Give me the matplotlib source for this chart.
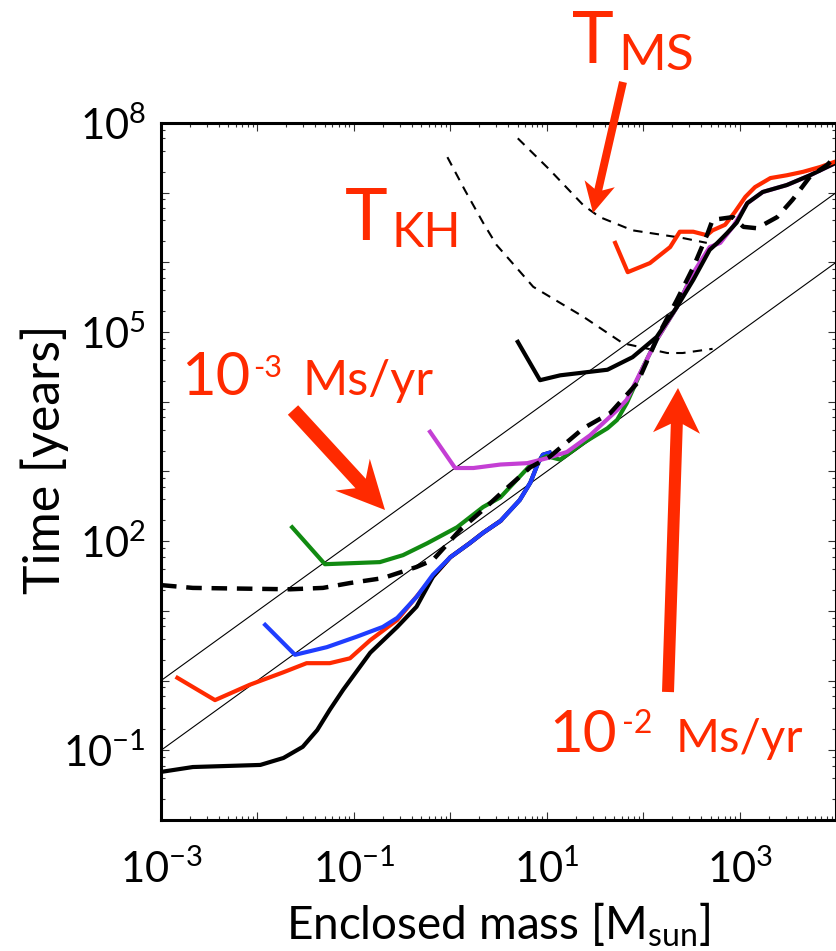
import numpy as np
import matplotlib
matplotlib.use('Agg')
import matplotlib.pyplot as plt
from matplotlib.ticker import LogLocator, FuncFormatter, NullFormatter
from matplotlib.patches import FancyArrow

plt.rcParams['font.family'] = ['Lato', 'DejaVu Sans']
plt.rcParams['mathtext.fontset'] = 'custom'
plt.rcParams['mathtext.rm'] = 'Lato'
plt.rcParams['mathtext.it'] = 'Lato:italic'
plt.rcParams['mathtext.bf'] = 'Lato:bold'

#%%
# values, as log10(mass [Msun]) and log10(time [yr])
red_low_lm = [-2.83, -2.44, -2.08, -1.73, -1.49, -1.25, -1.04, -0.83, -0.55, -0.18, 0.00, 0.20, 0.34, 0.52]
red_low_lt = [0.04, -0.28, -0.06, 0.12, 0.25, 0.25, 0.32, 0.58, 0.87, 1.49, 1.77, 1.97, 2.12, 2.29]

black_low_lm = [-3.00, -2.67, -1.97, -1.73, -1.53, -1.38, -1.25, -1.11, -0.83, -0.55, -0.35, -0.18,
                0.00, 0.20, 0.34, 0.52, 0.72, 0.83, 0.91, 0.96, 1.03]
black_low_lt = [-1.31, -1.24, -1.21, -1.11, -0.95, -0.71, -0.42, -0.13, 0.40, 0.77, 1.06, 1.49,
                1.77, 1.97, 2.12, 2.29, 2.59, 2.84, 3.12, 3.24, 3.27]

blue_lm = [-1.92, -1.61, -1.28, -0.97, -0.70, -0.55, -0.35, -0.18, 0.00, 0.20, 0.34, 0.52, 0.72, 0.83, 0.91, 0.96, 1.03]
blue_lt = [0.80, 0.37, 0.48, 0.63, 0.77, 0.90, 1.20, 1.52, 1.77, 1.97, 2.12, 2.29, 2.59, 2.84, 3.12, 3.24, 3.27]

green_lm = [-1.64, -1.30, -0.73, -0.49, -0.24, 0.07, 0.34, 0.52, 0.83, 1.00, 1.14, 1.38, 1.63, 1.73, 1.83, 2.00, 2.14, 2.35, 2.52]
green_lt = [2.20, 1.67, 1.70, 1.80, 1.97, 2.20, 2.49, 2.63, 3.09, 3.22, 3.17, 3.41, 3.62, 3.74, 3.98, 4.50, 4.89, 5.36, 5.85]

purple_lm = [-0.21, 0.05, 0.24, 0.52, 0.80, 1.00, 1.21, 1.45, 1.73, 1.83, 2.00, 2.14, 2.35, 2.52, 2.69,
             2.80, 2.93, 3.08, 3.24, 3.49, 3.73, 4.00]
purple_lt = [3.57, 3.05, 3.05, 3.10, 3.12, 3.19, 3.28, 3.52, 3.88, 4.03, 4.50, 4.89, 5.36, 5.85, 6.22,
             6.28, 6.51, 6.85, 7.01, 7.11, 7.25, 7.43]

black_up_lm = [0.70, 0.93, 1.14, 1.63, 1.89, 2.14, 2.35, 2.52, 2.69, 2.77, 2.87, 2.97, 3.08, 3.24, 3.49, 3.73, 4.00]
black_up_lt = [4.86, 4.31, 4.38, 4.46, 4.64, 4.93, 5.36, 5.75, 6.18, 6.28, 6.42, 6.57, 6.85, 7.01, 7.11, 7.25, 7.43]

red_up_lm = [1.71, 1.84, 2.07, 2.28, 2.38, 2.52, 2.66, 2.72, 2.85, 2.95, 3.06, 3.16, 3.32, 3.49, 3.66, 3.84, 4.00]
red_up_lt = [6.28, 5.86, 5.99, 6.22, 6.44, 6.44, 6.39, 6.46, 6.54, 6.72, 6.94, 7.08, 7.21, 7.25, 7.30, 7.37, 7.45]

# thick dashed reference model
model_lm = [-3.00, -2.67, -1.66, -1.32, -1.04, -0.70, -0.35, -0.18, 0.10, 0.34, 0.52, 0.83, 1.03, 1.38, 1.66,
            1.94, 2.17, 2.35, 2.52, 2.67, 2.72, 2.93, 3.04, 3.18, 3.39, 3.55, 3.73, 3.91, 4.00]
model_lt = [1.37, 1.33, 1.31, 1.33, 1.40, 1.47, 1.63, 1.73, 2.16, 2.45, 2.68, 3.06, 3.21, 3.62, 3.84,
            4.27, 4.99, 5.46, 5.93, 6.42, 6.61, 6.65, 6.51, 6.49, 6.65, 6.90, 7.23, 7.40, 7.53]

# Kelvin-Helmholtz and main-sequence timescales (thin dashed)
tkh_lm = [-0.03, 0.15, 0.34, 0.48, 0.86, 1.38, 1.79, 2.25, 2.41, 2.72]
tkh_lt = [7.51, 7.04, 6.57, 6.25, 5.65, 5.22, 4.84, 4.70, 4.70, 4.76]
tms_lm = [0.70, 1.03, 1.38, 1.55, 1.89, 2.41, 2.66]
tms_lt = [7.78, 7.33, 6.82, 6.65, 6.46, 6.35, 6.28]

# constant accretion rate lines, t = M / Mdot
acc_m = [1e-3, 1e4]
acc_t_1e3 = [1.0, 1e7]
acc_t_1e2 = [0.1, 1e6]

xlab_exps = [-3, -1, 1, 3]
ylab_exps = [8, 5, 2, -1]

red = '#ff2a00'

#%%
W, H = 837, 951
fig = plt.figure(figsize=(W / 100, H / 100), dpi=100)
ax = fig.add_axes([161 / W, 1 - 820 / H, 675 / W, 697 / H])

def lg(a):
    return 10 ** np.asarray(a)

ax.plot(acc_m, acc_t_1e3, color='k', lw=0.8)
ax.plot(acc_m, acc_t_1e2, color='k', lw=0.8)
ax.plot(lg(tkh_lm), lg(tkh_lt), color='k', lw=1.5, ls=(0, (4.5, 3.5)))
ax.plot(lg(tms_lm), lg(tms_lt), color='k', lw=1.5, ls=(0, (4.5, 3.5)))

lw = 3.0
ax.plot(lg(red_low_lm), lg(red_low_lt), color=red, lw=lw)
ax.plot(lg(black_low_lm), lg(black_low_lt), color='k', lw=lw)
ax.plot(lg(blue_lm), lg(blue_lt), color='#1f3dff', lw=lw)
ax.plot(lg(green_lm), lg(green_lt), color='#118a11', lw=lw)
ax.plot(lg(purple_lm), lg(purple_lt), color='#c43fd4', lw=lw)
ax.plot(lg(black_up_lm), lg(black_up_lt), color='k', lw=lw)
ax.plot(lg(red_up_lm), lg(red_up_lt), color=red, lw=lw)
ax.plot(lg(model_lm), lg(model_lt), color='k', lw=3.2, ls=(0, (3.5, 2.2)))

ax.set_xscale('log')
ax.set_yscale('log')
ax.set_xlim(1e-3, 1e4)
ax.set_ylim(1e-2, 1e8)

def xfmt(v, pos):
    e = int(round(np.log10(v)))
    return r'$\mathregular{10^{%d}}$' % e if e in xlab_exps else ''

def yfmt(v, pos):
    e = int(round(np.log10(v)))
    return r'$\mathregular{10^{%d}}$' % e if e in ylab_exps else ''

ax.xaxis.set_major_locator(LogLocator(base=10, numticks=30))
ax.yaxis.set_major_locator(LogLocator(base=10, numticks=30))
ax.xaxis.set_minor_locator(LogLocator(base=10, subs=np.arange(2, 10), numticks=100))
ax.yaxis.set_minor_locator(LogLocator(base=10, subs=(2, 4, 6, 8), numticks=100))
ax.xaxis.set_major_formatter(FuncFormatter(xfmt))
ax.yaxis.set_major_formatter(FuncFormatter(yfmt))
ax.xaxis.set_minor_formatter(NullFormatter())
ax.yaxis.set_minor_formatter(NullFormatter())

ax.tick_params(which='both', direction='in', top=True, right=True, width=0.8, color='#333333')
ax.tick_params(which='major', length=6)
ax.tick_params(which='minor', length=3)
ax.tick_params(axis='x', which='major', labelsize=30, pad=21)
ax.tick_params(axis='y', which='major', labelsize=30, pad=11)
for s in ax.spines.values():
    s.set_linewidth(2.2)

ax.set_xlabel(r'Enclosed mass [M$_{\mathregular{sun}}$]', fontsize=33)
ax.xaxis.label.set_va('baseline')
ax.xaxis.set_label_coords(0.5, -0.172)
ax.set_ylabel('Time [years]', fontsize=36)
ax.yaxis.label.set_va('baseline')
ax.yaxis.set_label_coords(-0.150, 0.518)

#%%
# annotation layer in pixel coordinates
ov = fig.add_axes([0, 0, 1, 1], zorder=5)
ov.set_xlim(0, W)
ov.set_ylim(H, 0)
ov.axis('off')
ov.patch.set_visible(False)

def arrow(x0, y0, x1, y1, width, hw, hl, overhang=0.2):
    ov.add_patch(FancyArrow(x0, y0, x1 - x0, y1 - y0, width=width, head_width=hw, head_length=hl,
                            length_includes_head=True, overhang=overhang, color=red, lw=0))

arrow(623, 82, 593, 213, 8, 31, 30)
arrow(293, 410, 385, 510, 14, 47, 48, 0.25)
arrow(668, 692, 678, 388, 12, 47, 45, 0.2)

tk = dict(color=red, va='baseline', ha='left')
ov.text(572, 63, 'T', fontsize=51, **tk)
ov.text(618, 70, 'MS', fontsize=37, **tk)
ov.text(345, 240, 'T', fontsize=52, **tk)
ov.text(392, 247, 'KH', fontsize=35, **tk)

ov.text(250, 395, '10', fontsize=43, color=red, va='baseline', ha='right')
ov.text(253, 377, '-3', fontsize=22, **tk)
ov.text(303, 395, 'Ms/yr', fontsize=35, **tk)

ov.text(617, 752, '10', fontsize=42, color=red, va='baseline', ha='right')
ov.text(622, 733, '-2', fontsize=23, **tk)
ov.text(676, 752, 'Ms/yr', fontsize=34, **tk)

fig.savefig('out.png', dpi=100)
